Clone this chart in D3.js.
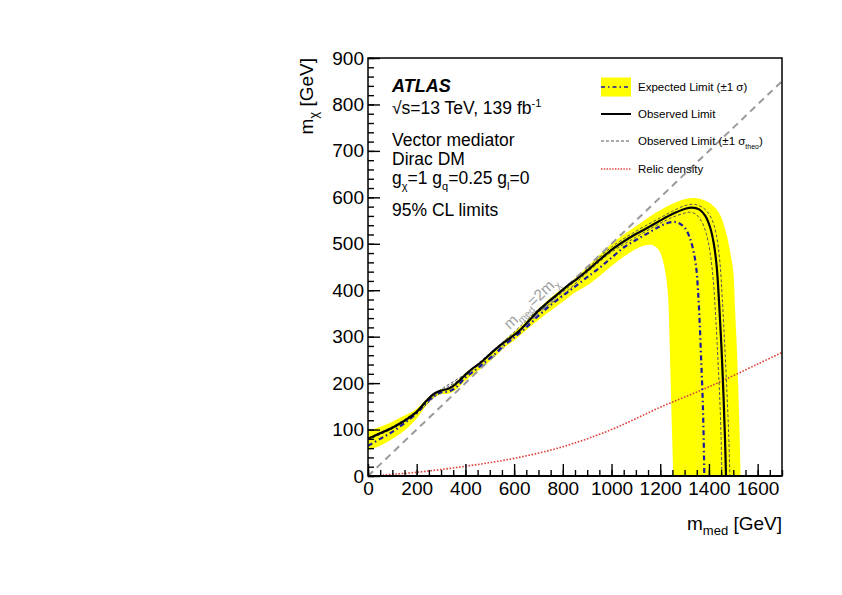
<!DOCTYPE html>
<html>
<head>
<meta charset="utf-8">
<script src="https://cdn.jsdelivr.net/npm/d3@7"></script>
<style>
  body { margin: 0; background: #fff; }
  text { font-family: "Liberation Sans", Arial, Helvetica, sans-serif; }
</style>
</head>
<body>
<div id="chart"></div>
<script>
// data: [m_med, m_chi] in GeV
const observed = [[0,80],[50,92],[100,104],[150,119],[200,138],[240,162],[270,177],[300,184],[330,188],[360,198],[400,218],[430,232],[460,243],[500,262],[540,280],[580,296],[620,312],[660,334],[700,356],[740,375],[780,392],[820,410],[860,425],[900,442],[950,465],[1000,487],[1050,505],[1100,521],[1150,535],[1200,550],[1250,564],[1300,575],[1330,578],[1360,574],[1385,560],[1405,535],[1420,500],[1432,450],[1442,370],[1452,270],[1460,170],[1466,80],[1470,0]];

const expected = [[0,65],[50,80],[100,95],[150,114],[200,135],[240,158],[270,172],[300,180],[330,182],[360,190],[400,212],[440,228],[480,245],[520,262],[560,282],[600,298],[650,320],[700,345],[750,368],[800,388],[850,408],[900,428],[950,448],[1000,470],[1050,492],[1100,508],[1150,523],[1200,538],[1240,546],[1270,546],[1300,535],[1320,515],[1335,488],[1347,452],[1355,400],[1362,330],[1368,250],[1374,170],[1378,90],[1381,0]];

// +1 sigma (outer) edge, left to right and down the far side
const bandOuter = [[0,97],[50,106],[100,117],[150,130],[200,145],[240,165],[270,178],[300,186],[330,190],[360,202],[400,222],[440,236],[480,252],[520,272],[560,292],[600,310],[650,334],[700,360],[750,384],[800,404],[850,426],[900,450],[950,476],[1000,500],[1050,520],[1100,538],[1150,556],[1200,572],[1250,586],[1300,596],[1350,598],[1400,589],[1440,568],[1470,525],[1490,475],[1500,440],[1508,350],[1515,270],[1521,180],[1526,90],[1530,0]];

// -1 sigma (inner) edge, from the bottom back to the left
const bandInner = [[1254,0],[1248,100],[1243,200],[1238,300],[1233,380],[1225,425],[1212,462],[1195,486],[1170,497],[1140,497],[1100,489],[1050,472],[1000,452],[950,430],[900,410],[850,395],[800,375],[750,356],[700,336],[650,314],[600,292],[560,276],[520,256],[480,238],[440,222],[400,205],[360,185],[330,177],[300,176],[270,168],[240,152],[200,124],[150,98],[100,80],[50,65],[0,55]];

const theoUp = [[0,82],[100,106],[200,140],[300,186],[400,220],[500,264],[600,310],[700,359],[800,396],[900,446],[1000,493],[1100,527],[1200,556],[1250,570],[1300,582],[1340,585],[1380,576],[1410,555],[1430,520],[1445,460],[1455,380],[1465,280],[1474,180],[1481,90],[1486,0]];

const theoDown = [[0,78],[100,102],[200,136],[300,182],[400,216],[500,260],[600,304],[700,353],[800,390],[900,438],[1000,482],[1100,514],[1200,544],[1250,557],[1300,566],[1320,568],[1345,564],[1370,548],[1390,520],[1405,480],[1418,420],[1428,340],[1437,250],[1445,160],[1450,80],[1453,0]];

const relic = [[60,2],[200,8],[400,21],[600,38],[800,63],[1000,100],[1200,148],[1400,192],[1600,241],[1700,266]];

const diagonal = [[0,0],[1700,850]];

const xMajor = [0,200,400,600,800,1000,1200,1400,1600];
const yMajor = [0,100,200,300,400,500,600,700,800,900];

const legendLabels = ["Expected Limit", "Observed Limit", "Observed Limit", "Relic density"];

//----------------------------------------------------------
const svgWidth = 842;
const svgHeight = 595;

const frame = { left: 368, right: 782, top: 58, bottom: 476 };

const svg = d3.select("#chart")
  .append("svg")
  .attr("width", svgWidth)
  .attr("height", svgHeight);

const xScale = d3.scaleLinear().domain([0, 1700]).range([frame.left, frame.right]);
const yScale = d3.scaleLinear().domain([0, 900]).range([frame.bottom, frame.top]);

svg.append("clipPath").attr("id", "plotClip")
  .append("rect")
  .attr("x", frame.left).attr("y", frame.top)
  .attr("width", frame.right - frame.left)
  .attr("height", frame.bottom - frame.top);

const plot = svg.append("g").attr("clip-path", "url(#plotClip)");

const smooth = d3.line()
  .x(d => xScale(d[0]))
  .y(d => yScale(d[1]))
  .curve(d3.curveCatmullRom.alpha(0.5));

// yellow +-1 sigma band
plot.append("path")
  .attr("d", smooth(bandOuter) + "L" + smooth(bandInner).slice(1) + "Z")
  .attr("fill", "#ffff00")
  .attr("stroke", "none");

// m_med = 2 m_chi
plot.append("path")
  .attr("d", d3.line().x(d => xScale(d[0])).y(d => yScale(d[1]))(diagonal))
  .attr("fill", "none")
  .attr("stroke", "#9a9a9a")
  .attr("stroke-width", 2)
  .attr("stroke-dasharray", "7,5");

// relic density
plot.append("path")
  .attr("d", smooth(relic))
  .attr("fill", "none")
  .attr("stroke", "#e0403a")
  .attr("stroke-width", 1.6)
  .attr("stroke-dasharray", "1.6,1.6");

// theory uncertainty on observed
[theoUp, theoDown].forEach(s => {
  plot.append("path")
    .attr("d", smooth(s))
    .attr("fill", "none")
    .attr("stroke", "#555")
    .attr("stroke-width", 1)
    .attr("stroke-dasharray", "3,2");
});

// expected
plot.append("path")
  .attr("d", smooth(expected))
  .attr("fill", "none")
  .attr("stroke", "#1a1aa0")
  .attr("stroke-width", 2.2)
  .attr("stroke-dasharray", "5,3,1.5,3");

// observed
plot.append("path")
  .attr("d", smooth(observed))
  .attr("fill", "none")
  .attr("stroke", "#000")
  .attr("stroke-width", 2.2);

// label on the diagonal
const labX = xScale(590), labY = yScale(295);
const diagLabel = svg.append("text")
  .attr("transform", `translate(${labX - 2},${labY - 9}) rotate(-43.6)`)
  .attr("fill", "#a0a0a0")
  .attr("font-size", 15.5);
diagLabel.append("tspan").text("m");
diagLabel.append("tspan").attr("font-size", 10).attr("dy", 4).text("med");
diagLabel.append("tspan").attr("dy", -4).text("=2m");
diagLabel.append("tspan").attr("font-size", 10).attr("dy", 4).text("χ");

// frame
svg.append("rect")
  .attr("x", frame.left).attr("y", frame.top)
  .attr("width", frame.right - frame.left)
  .attr("height", frame.bottom - frame.top)
  .attr("fill", "none")
  .attr("stroke", "#000")
  .attr("stroke-width", 1.5);

// axes
const fmt = d3.format("d");
const xMinorAxis = d3.axisBottom(xScale).tickValues(d3.range(0, 1701, 50)).tickSize(-6).tickFormat("");
const xMajorAxis = d3.axisBottom(xScale).tickValues(xMajor).tickSize(-12).tickPadding(6).tickFormat(fmt);
const yMinorAxis = d3.axisLeft(yScale).tickValues(d3.range(0, 901, 20)).tickSize(-6).tickFormat("");
const yMajorAxis = d3.axisLeft(yScale).tickValues(yMajor).tickSize(-12).tickPadding(4).tickFormat(fmt);

[xMinorAxis, xMajorAxis].forEach(a => {
  svg.append("g")
    .attr("transform", `translate(0,${frame.bottom})`)
    .call(a)
    .call(g => g.select(".domain").remove());
});
[yMinorAxis, yMajorAxis].forEach(a => {
  svg.append("g")
    .attr("transform", `translate(${frame.left},0)`)
    .call(a)
    .call(g => g.select(".domain").remove());
});
svg.selectAll(".tick line").attr("stroke", "#000").attr("stroke-width", 1.4);
svg.selectAll(".tick text")
  .attr("font-family", "Liberation Sans, Arial, sans-serif")
  .attr("font-size", 19)
  .attr("fill", "#000");

svg.append("line")
  .attr("x1", frame.left).attr("x2", frame.right)
  .attr("y1", frame.bottom).attr("y2", frame.bottom)
  .attr("stroke", "#000").attr("stroke-width", 2);

// axis titles
const xTitle = svg.append("text")
  .attr("x", frame.right).attr("y", 530)
  .attr("text-anchor", "end")
  .attr("font-size", 19);
xTitle.append("tspan").text("m");
xTitle.append("tspan").attr("font-size", 13).attr("dy", 5).text("med");
xTitle.append("tspan").attr("dy", -5).text(" [GeV]");

const yTitle = svg.append("text")
  .attr("transform", `translate(313,${frame.top}) rotate(-90)`)
  .attr("text-anchor", "end")
  .attr("font-size", 19);
yTitle.append("tspan").text("m");
yTitle.append("tspan").attr("font-size", 13).attr("dy", 5).text("χ");
yTitle.append("tspan").attr("dy", -5).text(" [GeV]");

// ATLAS block
const tx = 392;
svg.append("text")
  .attr("x", tx).attr("y", 92)
  .attr("font-size", 18)
  .attr("font-weight", "bold")
  .attr("font-style", "italic")
  .text("ATLAS");

const energy = svg.append("text").attr("x", tx).attr("y", 114).attr("font-size", 17.5);
energy.append("tspan").text("√s=13 TeV, 139 fb");
energy.append("tspan").attr("font-size", 11).attr("dy", -7).text("-1");

svg.append("text").attr("x", tx).attr("y", 146).attr("font-size", 17.5).text("Vector mediator");
svg.append("text").attr("x", tx).attr("y", 165).attr("font-size", 17.5).text("Dirac DM");

const coup = svg.append("text").attr("x", tx).attr("y", 184).attr("font-size", 17.5);
coup.append("tspan").text("g");
coup.append("tspan").attr("font-size", 11).attr("dy", 6).text("χ");
coup.append("tspan").attr("dy", -6).text("=1 g");
coup.append("tspan").attr("font-size", 11).attr("dy", 6).text("q");
coup.append("tspan").attr("dy", -6).text("=0.25 g");
coup.append("tspan").attr("font-size", 11).attr("dy", 6).text("l");
coup.append("tspan").attr("dy", -6).text("=0");

svg.append("text").attr("x", tx).attr("y", 216).attr("font-size", 17.5).text("95% CL limits");

// legend
const lgX0 = 601, lgX1 = 631, lgText = 638;
const lgY = [87, 114, 141, 169];

svg.append("rect")
  .attr("x", lgX0).attr("y", lgY[0] - 9.5)
  .attr("width", lgX1 - lgX0).attr("height", 19)
  .attr("fill", "#ffff00");
svg.append("line")
  .attr("x1", lgX0).attr("x2", lgX1).attr("y1", lgY[0]).attr("y2", lgY[0])
  .attr("stroke", "#1a1aa0").attr("stroke-width", 1.6).attr("stroke-dasharray", "4,3,1.5,3");
svg.append("line")
  .attr("x1", lgX0).attr("x2", lgX1).attr("y1", lgY[1]).attr("y2", lgY[1])
  .attr("stroke", "#000").attr("stroke-width", 2);
svg.append("line")
  .attr("x1", lgX0).attr("x2", lgX1).attr("y1", lgY[2]).attr("y2", lgY[2])
  .attr("stroke", "#555").attr("stroke-width", 1).attr("stroke-dasharray", "3,2");
svg.append("line")
  .attr("x1", lgX0).attr("x2", lgX1).attr("y1", lgY[3]).attr("y2", lgY[3])
  .attr("stroke", "#e0403a").attr("stroke-width", 1.4).attr("stroke-dasharray", "1.4,1.4");

const lgFont = 11.5;
const l0 = svg.append("text").attr("x", lgText).attr("y", lgY[0] + 4).attr("font-size", lgFont);
l0.append("tspan").text(legendLabels[0] + " (±1 σ)");
svg.append("text").attr("x", lgText).attr("y", lgY[1] + 4).attr("font-size", lgFont).text(legendLabels[1]);
const l2 = svg.append("text").attr("x", lgText).attr("y", lgY[2] + 4).attr("font-size", lgFont);
l2.append("tspan").text(legendLabels[2] + " (±1 σ");
l2.append("tspan").attr("font-size", 7).attr("dy", 4).text("theo");
l2.append("tspan").attr("dy", -4).text(")");
svg.append("text").attr("x", lgText).attr("y", lgY[3] + 4).attr("font-size", lgFont).text(legendLabels[3]);
</script>
</body>
</html>
